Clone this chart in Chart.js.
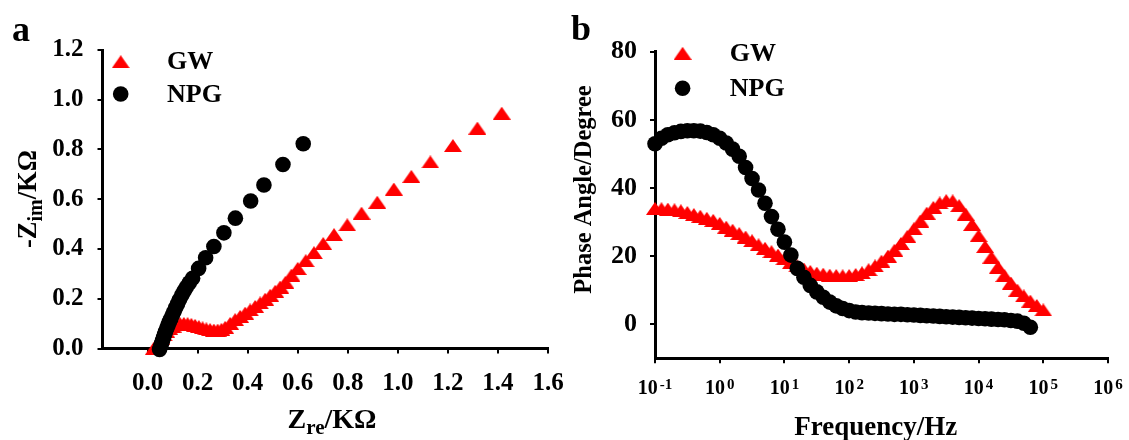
<!DOCTYPE html>
<html>
<head>
<meta charset="utf-8">
<script src="https://cdn.jsdelivr.net/npm/chart.js@4.4.1/dist/chart.umd.min.js"></script>
<style>
  body { margin: 0; background: #fff; width: 1129px; height: 440px; overflow: hidden; position: relative; }
  .box { position: absolute; top: 0; height: 440px; }
  #boxA { left: 0; width: 600px; }
  #boxB { left: 560px; width: 569px; }
</style>
</head>
<body>
<div class="box" id="boxA"><canvas id="nyquist"></canvas></div>
<div class="box" id="boxB"><canvas id="bode"></canvas></div>
<script>
// --- data ---
// a: Nyquist plot (KOhm), high frequency first
const gwZre = [0.025, 0.035, 0.045, 0.055, 0.065, 0.075, 0.087, 0.100, 0.115, 0.130,
  0.145, 0.160, 0.175, 0.190, 0.205, 0.220, 0.235, 0.250, 0.265, 0.280,
  0.295, 0.310, 0.330, 0.350, 0.370, 0.390, 0.410, 0.430, 0.450, 0.470,
  0.490, 0.510, 0.530, 0.551, 0.575, 0.600, 0.632, 0.665, 0.702, 0.745,
  0.798, 0.855, 0.918, 0.984, 1.054, 1.130, 1.220, 1.318, 1.415];
const gwZim = [0.000, 0.012, 0.025, 0.040, 0.055, 0.068, 0.080, 0.090, 0.097, 0.100,
  0.101, 0.100, 0.097, 0.093, 0.088, 0.083, 0.079, 0.076, 0.074, 0.074,
  0.077, 0.085, 0.101, 0.116, 0.129, 0.142, 0.155, 0.169, 0.183, 0.198,
  0.214, 0.230, 0.247, 0.266, 0.295, 0.322, 0.353, 0.385, 0.422, 0.458,
  0.497, 0.544, 0.588, 0.641, 0.692, 0.750, 0.816, 0.886, 0.946];
const npgZre = [0.048, 0.052, 0.056, 0.060, 0.064, 0.068, 0.072, 0.077, 0.082, 0.087,
  0.093, 0.099, 0.106, 0.113, 0.120, 0.128, 0.137, 0.146, 0.155, 0.167,
  0.180, 0.204, 0.232, 0.265, 0.305, 0.351, 0.412, 0.465, 0.541, 0.622];
const npgZim = [-0.004, 0.008, 0.020, 0.032, 0.044, 0.056, 0.068, 0.081, 0.094, 0.107,
  0.120, 0.134, 0.149, 0.165, 0.180, 0.197, 0.215, 0.231, 0.246, 0.264,
  0.282, 0.322, 0.365, 0.410, 0.465, 0.524, 0.593, 0.657, 0.740, 0.823];

// b: Bode phase plot
const freqHz = [0.1, 0.126, 0.158, 0.2, 0.251, 0.316, 0.398, 0.501, 0.631, 0.794,
  1, 1.26, 1.58, 2, 2.51, 3.16, 3.98, 5.01, 6.31, 7.94,
  10, 12.6, 15.8, 20, 25.1, 31.6, 39.8, 50.1, 63.1, 79.4,
  100, 126, 158, 200, 251, 316, 398, 501, 631, 794,
  1000, 1260, 1580, 2000, 2510, 3160, 3980, 5010, 6310, 7940,
  10000, 12600, 15800, 20000, 25100, 31600, 39800, 50100, 63100, 79400,
  100000];
const gwPhase = [34.0, 33.9, 33.8, 33.6, 33.3, 32.8, 32.2, 31.7, 31.1, 30.5,
  29.6, 28.5, 27.6, 26.6, 25.6, 24.5, 23.3, 22.3, 21.3, 20.3,
  19.2, 18.1, 17.1, 16.2, 15.5, 15.0, 14.7, 14.4, 14.3, 14.2,
  14.3, 14.6, 15.1, 16.0, 17.1, 18.5, 20.0, 21.7, 23.7, 25.8,
  28.0, 30.3, 32.6, 34.3, 35.6, 36.3, 36.2, 34.8, 32.3, 29.3,
  26.0, 22.8, 19.7, 16.8, 14.3, 12.1, 10.0, 8.3, 6.8, 5.5,
  4.2];
const npgPhase = [53.0, 54.6, 55.6, 56.2, 56.6, 56.8, 56.8, 56.7, 56.3, 55.6,
  54.6, 53.2, 51.4, 49.3, 46.0, 42.8, 39.4, 35.5, 31.6, 27.9,
  24.1, 20.3, 16.4, 13.8, 11.4, 9.5, 7.9, 6.5, 5.4, 4.6,
  4.0, 3.6, 3.4, 3.3, 3.2, 3.1, 3.0, 2.9, 2.9, 2.8,
  2.7, 2.6, 2.5, 2.4, 2.3, 2.2, 2.1, 2.0, 1.9, 1.8,
  1.7, 1.6, 1.5, 1.4, 1.3, 1.1, 0.9, 0.3, -0.9];

// ticks
const zreTicks = [0, 0.2, 0.4, 0.6, 0.8, 1.0, 1.2, 1.4, 1.6];
const zimTicks = [0, 0.2, 0.4, 0.6, 0.8, 1.0, 1.2];
const phaseTicks = [0, 20, 40, 60, 80];
const freqExp = [-1, 0, 1, 2, 3, 4, 5, 6];

const RED = '#ff0000', BLACK = '#000000';
const SERIF = '"Liberation Serif", "Times New Roman", serif';

Chart.defaults.font.family = SERIF;
Chart.defaults.font.weight = 'bold';
Chart.defaults.color = BLACK;

// Excel style triangle marker (wider than tall)
const TRI_W = 18, TRI_H = 13;
const triMark = document.createElement('canvas');
triMark.width = TRI_W; triMark.height = TRI_H;
(function () {
    const c = triMark.getContext('2d');
    c.fillStyle = RED;
    c.beginPath();
    c.moveTo(TRI_W / 2, 0);
    c.lineTo(TRI_W, TRI_H);
    c.lineTo(0, TRI_H);
    c.closePath();
    c.fill();
})();
const DOT_R = 7.8;

// --- helpers ---
function axisLook() {
    return {
        border: { display: true, color: BLACK, width: 3 },
        grid: { drawOnChartArea: false, drawTicks: true, tickLength: 5, color: BLACK, lineWidth: 2 }
    };
}

// text made of pieces: [text, size, baseline shift]
function richText(ctx, parts, x, y) {
    let w = 0;
    parts.forEach(p => { ctx.font = `bold ${p[1]}px ${SERIF}`; w += ctx.measureText(p[0]).width; });
    let cx = x - w / 2;
    parts.forEach(p => {
        ctx.font = `bold ${p[1]}px ${SERIF}`;
        ctx.fillText(p[0], cx, y + p[2]);
        cx += ctx.measureText(p[0]).width;
    });
}

function legend(ctx, mx, tx, ys, size) {
    ctx.drawImage(triMark, mx - TRI_W / 2, ys[0] - TRI_H / 2);
    ctx.fillStyle = BLACK;
    ctx.beginPath();
    ctx.arc(mx, ys[1], 7.8, 0, Math.PI * 2);
    ctx.fill();
    ctx.font = `bold ${size}px ${SERIF}`;
    ctx.textBaseline = 'middle';
    ctx.fillText('GW', tx, ys[0] + 1);
    ctx.fillText('NPG', tx, ys[1] + 1);
    ctx.textBaseline = 'alphabetic';
}

function pts(xs, ys) { return xs.map((x, i) => ({ x: x, y: ys[i] })); }

// --- decorations ---
const nyquistDecor = {
    id: 'nyquistDecor',
    afterDraw(chart) {
        const ctx = chart.ctx;
        ctx.save();
        ctx.fillStyle = BLACK;
        ctx.textAlign = 'left';
        ctx.textBaseline = 'alphabetic';
        ctx.font = `bold 36px ${SERIF}`;
        ctx.fillText('a', 12, 41);
        richText(ctx, [['Z', 28, 0], ['re', 21, 6], ['/KΩ', 28, 0]], 332, 428);
        ctx.save();
        ctx.translate(36, 199);
        ctx.rotate(-Math.PI / 2);
        richText(ctx, [['-Z', 26.5, 0], ['im', 20, 6], ['/KΩ', 26.5, 0]], 0, 0);
        ctx.restore();
        legend(ctx, 120.7, 167, [61.7, 94], 26);
        ctx.restore();
    }
};

const bodeDecor = {
    id: 'bodeDecor',
    afterDraw(chart) {
        const ctx = chart.ctx;
        const xs = chart.scales.x;
        ctx.save();
        ctx.fillStyle = BLACK;
        ctx.textAlign = 'left';
        ctx.textBaseline = 'alphabetic';
        // 10^n tick labels
        freqExp.forEach(p => {
            const x = xs.getPixelForValue(Math.pow(10, p));
            ctx.font = `bold 20px ${SERIF}`;
            const w1 = ctx.measureText('10').width;
            ctx.font = `bold 15px ${SERIF}`;
            const w2 = ctx.measureText(String(p)).width;
            const x0 = x - (w1 + w2 + 2) / 2;
            ctx.font = `bold 20px ${SERIF}`;
            ctx.fillText('10', x0, 393.5);
            ctx.font = `bold 15px ${SERIF}`;
            ctx.fillText(String(p), x0 + w1 + 2, 389);
        });
        ctx.font = `bold 36px ${SERIF}`;
        ctx.fillText('b', 11, 40);
        richText(ctx, [['Frequency/Hz', 27, 0]], 315.7, 435);
        ctx.save();
        ctx.translate(31, 189.5);
        ctx.rotate(-Math.PI / 2);
        richText(ctx, [['Phase Angle/Degree', 24.5, 0]], 0, 0);
        ctx.restore();
        legend(ctx, 122.6, 169.8, [53.3, 88.3], 26);
        ctx.restore();
    }
};

function datasets(gw, npg) {
    return [
        { label: 'GW', data: gw, pointStyle: triMark, pointRadius: TRI_W / 2,
          pointBackgroundColor: RED, pointBorderWidth: 0, order: 2, clip: false },
        { label: 'NPG', data: npg, pointStyle: 'circle', pointRadius: DOT_R,
          pointBackgroundColor: BLACK, pointBorderWidth: 0, order: 1, clip: false }
    ];
}

// --- a: Nyquist ---
new Chart(document.getElementById('nyquist'), {
    type: 'scatter',
    data: { datasets: datasets(pts(gwZre, gwZim), pts(npgZre, npgZim)) },
    options: {
        responsive: true, maintainAspectRatio: false, animation: false, events: [],
        layout: { padding: { left: 0, top: 50, right: 52, bottom: 0 } },
        plugins: { legend: { display: false }, tooltip: { enabled: false } },
        scales: {
            x: Object.assign(axisLook(), {
                type: 'linear', min: -0.18, max: 1.6,
                afterBuildTicks: s => { s.ticks = zreTicks.map(v => ({ value: v })); },
                afterFit: s => { s.height = 91.5; },
                ticks: { font: { size: 25, weight: 'bold' }, padding: 15, maxRotation: 0, autoSkip: false,
                         callback: v => v.toFixed(1) }
            }),
            y: Object.assign(axisLook(), {
                type: 'linear', min: 0, max: 1.2,
                afterBuildTicks: s => { s.ticks = zimTicks.map(v => ({ value: v })); },
                afterFit: s => { s.width = 102.5; },
                ticks: { font: { size: 25, weight: 'bold' }, padding: 14, autoSkip: false,
                         callback: v => v.toFixed(1) }
            })
        }
    },
    plugins: [nyquistDecor]
});

// --- b: Bode phase ---
new Chart(document.getElementById('bode'), {
    type: 'scatter',
    data: { datasets: datasets(pts(freqHz, gwPhase), pts(freqHz.slice(0, npgPhase.length), npgPhase)) },
    options: {
        responsive: true, maintainAspectRatio: false, animation: false, events: [],
        layout: { padding: { left: 0, top: 51.7, right: 21, bottom: 0 } },
        plugins: { legend: { display: false }, tooltip: { enabled: false } },
        scales: {
            x: Object.assign(axisLook(), {
                type: 'logarithmic', min: 0.1, max: 1e6,
                afterBuildTicks: s => { s.ticks = freqExp.map(p => ({ value: Math.pow(10, p) })); },
                afterFit: s => { s.height = 81.7; },
                ticks: { display: false, autoSkip: false }
            }),
            y: Object.assign(axisLook(), {
                type: 'linear', min: -10, max: 80,
                afterBuildTicks: s => { s.ticks = phaseTicks.map(v => ({ value: v })); },
                afterFit: s => { s.width = 95; },
                ticks: { font: { size: 26, weight: 'bold' }, padding: 13, autoSkip: false }
            })
        }
    },
    plugins: [bodeDecor]
});
</script>
</body>
</html>
